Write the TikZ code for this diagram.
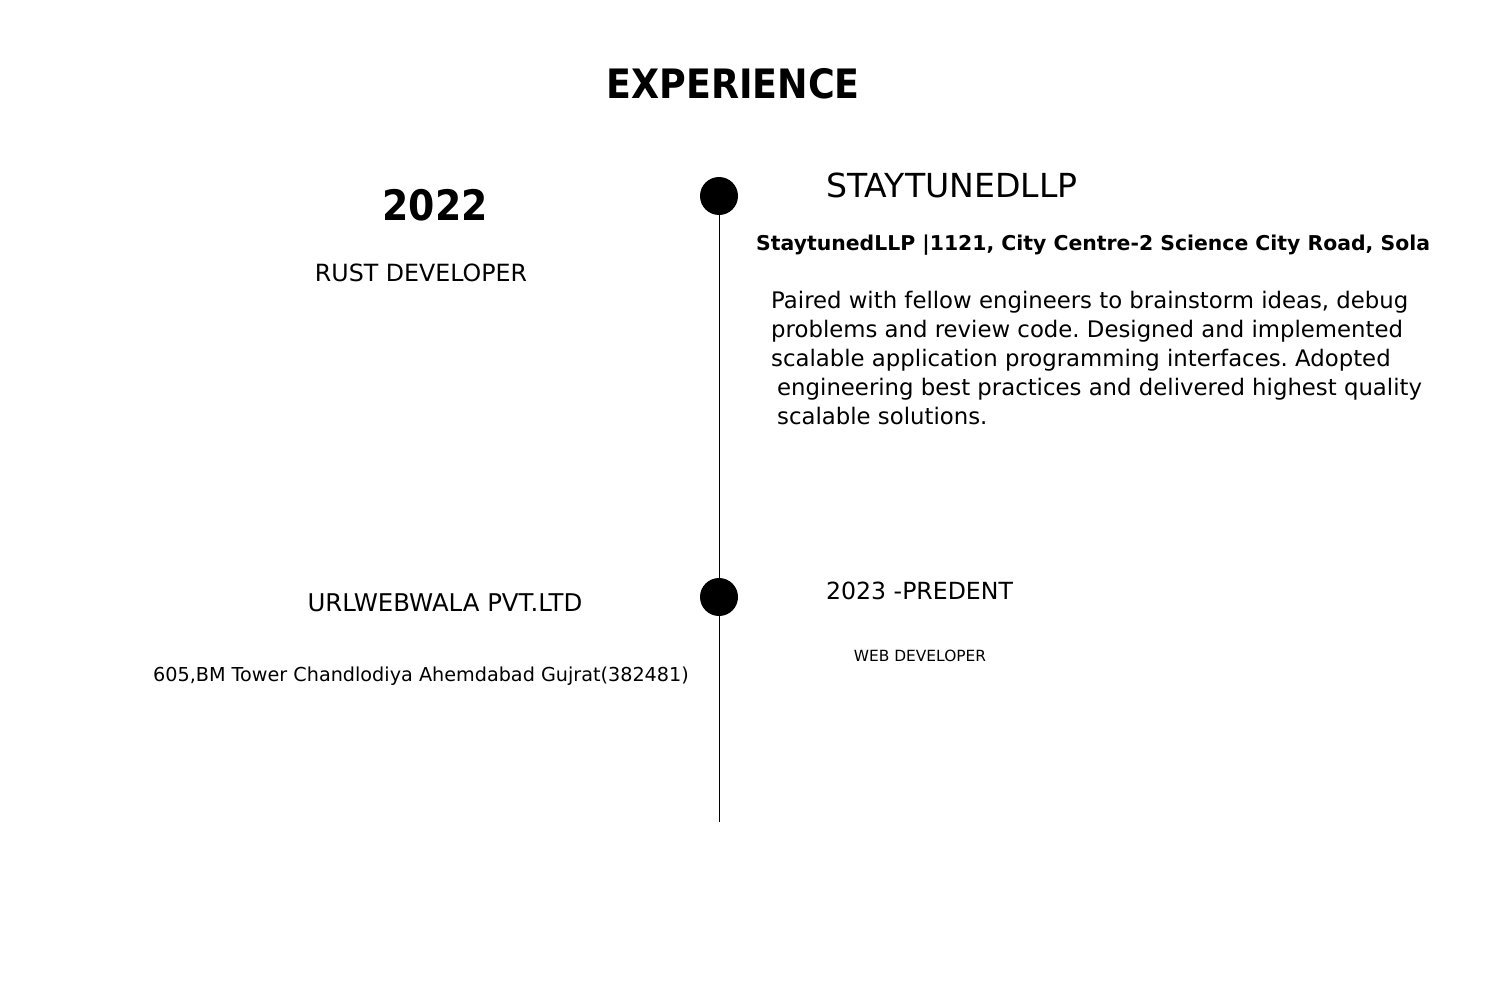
\documentclass[tikz,border=0pt]{standalone}
\usepackage{fontspec}
\setmainfont{DejaVu Sans}
\newfontfamily\condfont{DejaVu Sans Condensed}
\usetikzlibrary{positioning}
\frenchspacing

\begin{document}
\begin{tikzpicture}[x=1pt,y=-1pt,
    dot/.style={circle,fill=black,minimum size=38pt,inner sep=0pt},
    lbl/.style={inner sep=0pt,anchor=base,font=\fontsize{#1}{#1}\selectfont},
    lblw/.style={lbl=#1,anchor=base west},
    bld/.style={inner sep=0pt,anchor=base,font=\fontsize{#1}{#1}\selectfont\condfont\bfseries}]
    \useasboundingbox[fill=white] (0,0) rectangle (1512,982);
    \node[bld=40.5] (title) at (733,99) {EXPERIENCE};
    \node[dot] (first) at (719,196) {}; \node[dot] (second) at (719,597) {};
    \coordinate (bottom) at (719,822);
    \draw[line width=1pt] (first) -- (second) -- (bottom);
    % left column
    \node[bld=42] (year) at (435,220) {2022};
    \node[lbl=23.7] (role) at (421,281) {RUST DEVELOPER};
    \node[lbl=24.4] (company) at (445,611) {URLWEBWALA PVT.LTD};
    \node[lbl=19.2] (addr) at (421,681) {605,BM Tower Chandlodiya Ahemdabad Gujrat(382481)};
    % right column
    \node[lblw=33.1] (firm) at (826,197) {STAYTUNEDLLP};
    \node[inner sep=0pt,anchor=base west,font=\fontsize{20.4}{20.4}\selectfont\bfseries]
      (place) at (756,250) {StaytunedLLP |1121, City Centre-2 Science City Road, Sola};
    \node[inner sep=0pt,anchor=north west,align=left,
      font=\fontsize{22.8}{29}\selectfont] (about) at (771,291)
      {Paired with fellow engineers to brainstorm ideas, debug\\
       problems and review code. Designed and implemented\\
       scalable application programming interfaces. Adopted\\
       \hspace*{6pt}engineering best practices and delivered highest quality\\
       \hspace*{6pt}scalable solutions.};
    \node[lblw=23.6] (period) at (826,599) {2023 -PREDENT};
    \node[lbl=15.4] (job) at (920,661) {WEB DEVELOPER};
\end{tikzpicture}
\end{document}
